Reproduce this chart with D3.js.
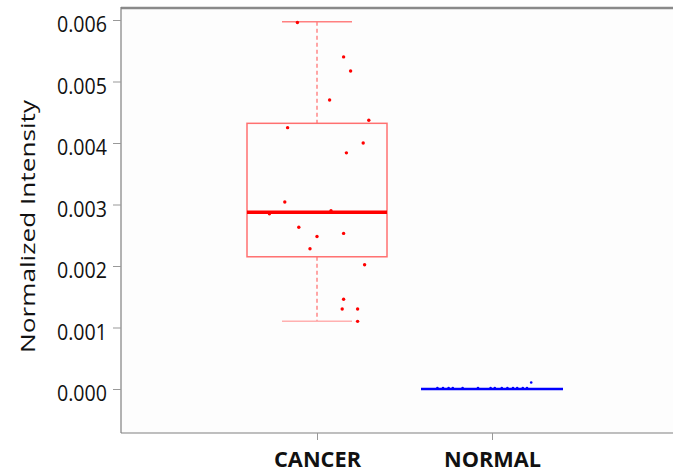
<!DOCTYPE html>
<html><head><meta charset="utf-8">
<script src="https://cdn.jsdelivr.net/npm/d3@7"></script>
<style>body{margin:0;background:#fff}</style>
</head><body>
<svg id="c" width="673" height="472"></svg>
<script>
const categories = ["CANCER", "NORMAL"];
const yTicks = [0, 0.001, 0.002, 0.003, 0.004, 0.005, 0.006];
const cancerValues = [0.00596,0.0054,0.00517,0.0047,0.00437,0.00425,0.0040,0.00384,0.00304,0.00285,0.0029,0.00263,0.00248,0.00253,0.00228,0.00202,0.00146,0.0013,0.0013,0.0011];
const cancerJitter = [-0.14,0.19,0.24,0.09,0.37,-0.21,0.33,0.21,-0.23,-0.34,0.10,-0.13,0.00,0.19,-0.05,0.34,0.19,0.18,0.29,0.29];
const normalValues = [0,0,0,0,0,0,0,0,0,0,0,0,0,0,0.00009];
const normalJitter = [-0.39,-0.35,-0.31,-0.28,-0.21,-0.10,-0.01,0.02,0.07,0.11,0.15,0.18,0.22,0.25,0.28];
const cancerStats = {min:0.0011, q1:0.00215, median:0.002875, q3:0.00432, max:0.00597};
const normalStats = {min:0, q1:0, median:0, q3:0, max:0.0};

const svg = d3.select("#c");
const L = 121, R = 690, T = 7, B = 433;
const y = d3.scaleLinear().domain([0, 0.006]).range([389, 20]);
const x = d3.scalePoint().domain(categories).range([317, 492]);
const bw = 140;
const font = "'Open Sans', 'Liberation Sans', sans-serif";

svg.append("rect").attr("x",L).attr("y",T).attr("width",R-L).attr("height",B-T).attr("fill","#fdfdfd");
svg.append("line").attr("x1",L).attr("x2",R).attr("y1",T+1).attr("y2",T+1).attr("stroke","#8a8a8a").attr("stroke-width",2.5);
svg.append("line").attr("x1",L).attr("x2",L).attr("y1",T).attr("y2",B).attr("stroke","#808080").attr("stroke-width",1.2);
svg.append("line").attr("x1",L).attr("x2",R).attr("y1",B).attr("y2",B).attr("stroke","#808080").attr("stroke-width",1.2);

const yAxis = svg.append("g").attr("transform",`translate(${L},0)`)
  .call(d3.axisLeft(y).tickValues(yTicks).tickFormat(d3.format(".3f")).tickSize(8).tickPadding(6));
yAxis.select(".domain").remove();
yAxis.selectAll("line").attr("stroke","#999");
yAxis.selectAll("text").attr("font-family",font).attr("font-size",22.5).attr("fill","#111")
  .attr("x",-14).attr("dy",null).attr("y",11.5)
  .attr("textLength",50).attr("lengthAdjust","spacingAndGlyphs");

const xAxis = svg.append("g").attr("transform",`translate(0,${B})`)
  .call(d3.axisBottom(x).tickSize(7).tickPadding(14));
xAxis.select(".domain").remove();
xAxis.selectAll("line").attr("stroke","#999");
xAxis.selectAll("text").attr("font-family",font).attr("font-weight","bold").attr("font-size",22).attr("fill","#111")
  .attr("dy",null).attr("y",34)
  .attr("textLength",d=>d==="CANCER"?87:97).attr("lengthAdjust","spacingAndGlyphs");

svg.append("text").attr("transform","translate(35,226.5) rotate(-90)").attr("text-anchor","middle")
  .attr("font-family",font).attr("font-size",20).attr("fill","#111")
  .attr("textLength",253).attr("lengthAdjust","spacingAndGlyphs").text("Normalized Intensity");

// cancer box
const cx = x("CANCER");
const s = cancerStats;
svg.append("line").attr("x1",cx).attr("x2",cx).attr("y1",y(s.max)).attr("y2",y(s.q3)).attr("stroke","#ff8888").attr("stroke-width",1.5).attr("stroke-dasharray","4,3");
svg.append("line").attr("x1",cx).attr("x2",cx).attr("y1",y(s.q1)).attr("y2",y(s.min)).attr("stroke","#ff8888").attr("stroke-width",1.5).attr("stroke-dasharray","4,3");
svg.append("line").attr("x1",cx-bw/4).attr("x2",cx+bw/4).attr("y1",y(s.max)).attr("y2",y(s.max)).attr("stroke","#ff8080").attr("stroke-width",1.5);
svg.append("line").attr("x1",cx-bw/4).attr("x2",cx+bw/4).attr("y1",y(s.min)).attr("y2",y(s.min)).attr("stroke","#ffb0b0").attr("stroke-width",1.5);
svg.append("rect").attr("x",cx-bw/2).attr("y",y(s.q3)).attr("width",bw).attr("height",y(s.q1)-y(s.q3)).attr("fill","none").attr("stroke","#ff7070").attr("stroke-width",1.5);
svg.append("line").attr("x1",cx-bw/2).attr("x2",cx+bw/2).attr("y1",y(s.median)).attr("y2",y(s.median)).attr("stroke","#ff0000").attr("stroke-width",3.5);
svg.append("g").selectAll("circle").data(cancerValues).join("circle")
  .attr("cx",(d,i)=>cx+cancerJitter[i]*bw).attr("cy",d=>y(d)).attr("r",1.7).attr("fill","#ff0000");

// normal
const nx = x("NORMAL");
svg.append("line").attr("x1",nx-bw/2-1).attr("x2",nx+bw/2+1).attr("y1",y(normalStats.median)).attr("y2",y(normalStats.median)).attr("stroke","#0000ff").attr("stroke-width",2.5);
svg.append("g").selectAll("circle").data(normalValues).join("circle")
  .attr("cx",(d,i)=>nx+normalJitter[i]*bw).attr("cy",d=>y(d)-1).attr("r",1.3).attr("fill","#0000ff");
</script>
</body></html>
